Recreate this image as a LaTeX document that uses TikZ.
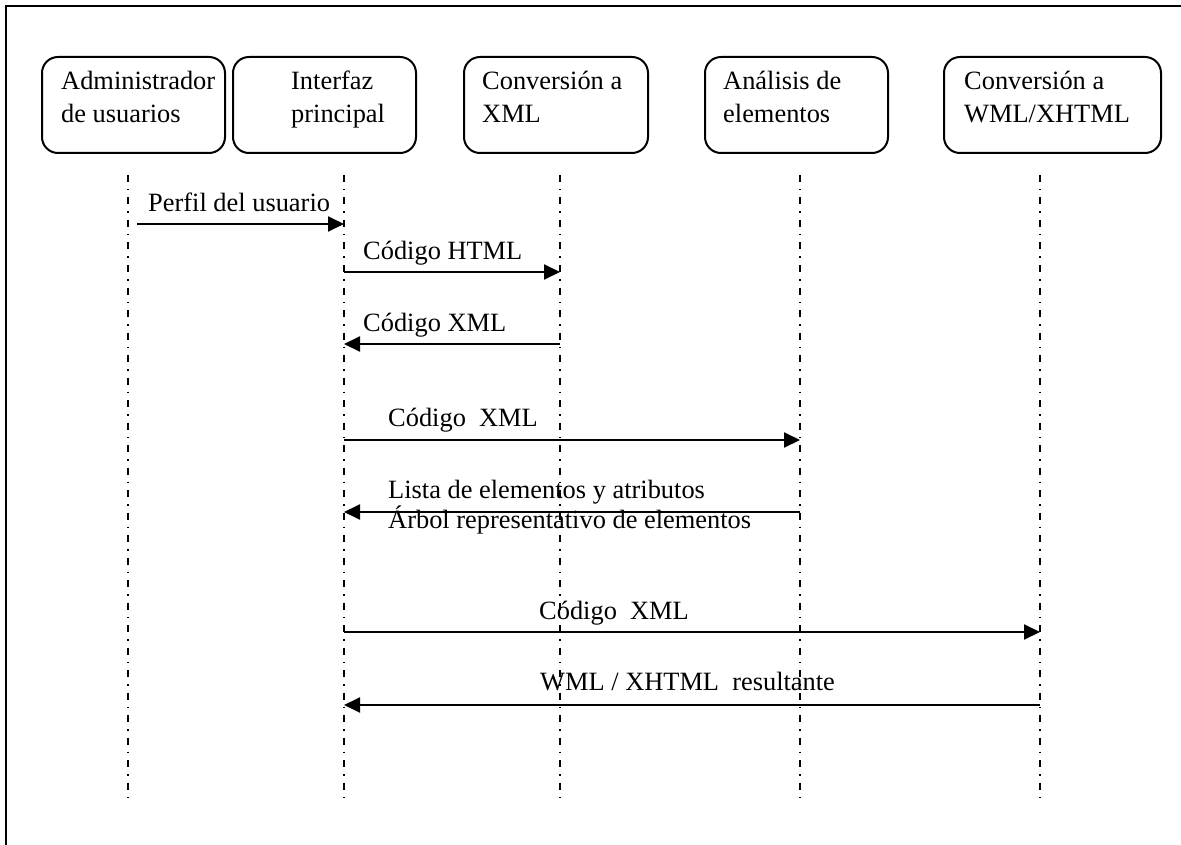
\documentclass[tikz,border=0pt]{standalone}
\usepackage{fontspec}
\setmainfont{Liberation Serif}
\usetikzlibrary{arrows.meta}
\begin{document}
\begin{tikzpicture}[x=1pt,y=-1pt,
  actor/.style={draw,line width=2pt,rounded corners=16pt,anchor=north west,
    minimum width=#1,minimum height=96pt,inner sep=0pt},
  txt/.style={anchor=base west,inner sep=0pt,font=\fontsize{26.4}{33}\selectfont,
    align=left},
  lifeline/.style={line width=1.6pt,dash pattern=on 7pt off 7pt on 1.5pt off 7pt},
  msg/.style={line width=2pt,-{Triangle[length=16pt,width=15pt]}}]
\useasboundingbox (0,0) rectangle (1181,845);
% frame
\draw[line width=2.2pt] (6,845) -- (6,6) -- (1181,6);

% participants
\node[actor=183pt] (b1) at (41,56) {};
\node[actor=183pt] (b2) at (232,56) {};
\node[actor=184pt] (b3) at (463,56) {};
\node[actor=183pt] (b4) at (704,56) {};
\node[actor=217pt] (b5) at (943,56) {};
% two-line captions: the base anchor sits on the second line
\node[txt] (t1) at (61,123) {Administrador\\de usuarios};
\node[txt] (t2) at (291,123) {Interfaz\\principal};
\node[txt] (t3) at (482,123) {Conversión a\\XML};
\node[txt] (t4) at (723,123) {Análisis de\\elementos};
\node[txt] (t5) at (964,123) {Conversión a\\WML/XHTML};

% lifelines
\foreach \i/\x in {1/128,2/344,3/560,4/800,5/1040}{
  \coordinate (L\i t) at (\x,175);
  \coordinate (L\i b) at (\x,798);
  \draw[lifeline] (L\i t) -- (L\i b);
}

% messages
\coordinate (m1s) at (137,224);
\coordinate (m1e) at (344,224);
\draw[msg] (m1s) -- (m1e);
\node[txt] (n1) at (148,212) {Perfil del usuario};

\coordinate (m2s) at (344,272);
\coordinate (m2e) at (560,272);
\draw[msg] (m2s) -- (m2e);
\node[txt] (n2) at (363,259) {Código HTML};

\coordinate (m3s) at (560,344);
\coordinate (m3e) at (344,344);
\draw[msg] (m3s) -- (m3e);
\node[txt] (n3) at (363,331) {Código XML};

\coordinate (m4s) at (344,440);
\coordinate (m4e) at (800,440);
\draw[msg] (m4s) -- (m4e);
\node[txt] (n4) at (388,426) {Código\ \ XML};

\coordinate (m5s) at (800,512);
\coordinate (m5e) at (344,512);
\draw[msg] (m5s) -- (m5e);
\node[txt] (n5a) at (388,498) {Lista de elementos y atributos};
\node[txt] (n5b) at (388,528) {Árbol representativo de elementos};

\coordinate (m6s) at (344,632);
\coordinate (m6e) at (1040,632);
\draw[msg] (m6s) -- (m6e);
\node[txt] (n6) at (539,619) {Código\ \ XML};

\coordinate (m7s) at (1040,705);
\coordinate (m7e) at (344,705);
\draw[msg] (m7s) -- (m7e);
\node[txt] (n7) at (540,690) {WML / XHTML\ \ resultante};
\end{tikzpicture}
\end{document}
